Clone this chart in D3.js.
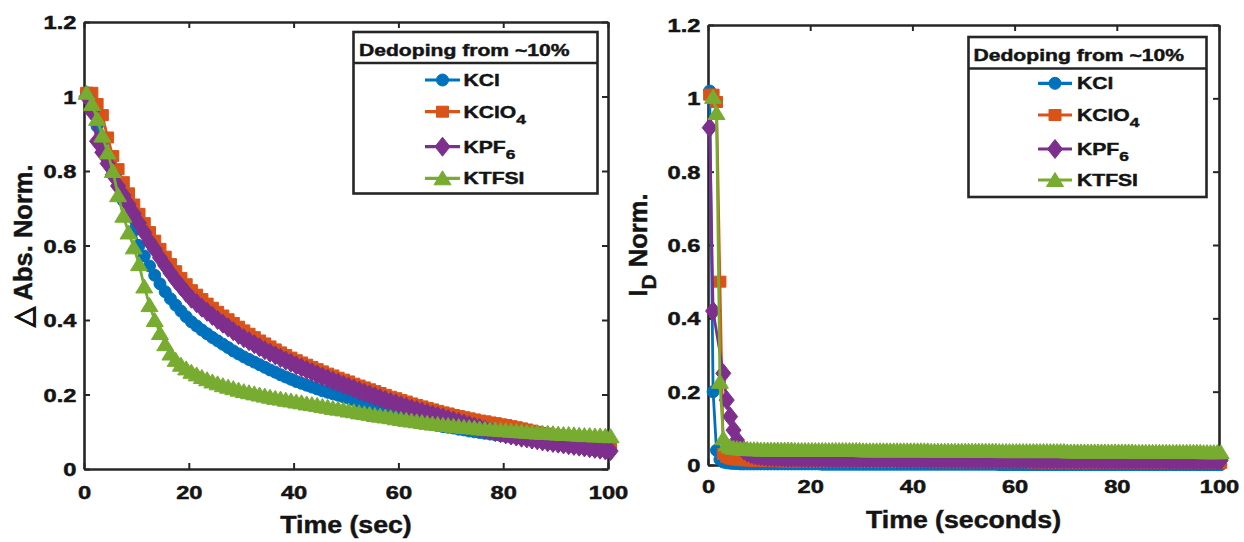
<!DOCTYPE html>
<html><head><meta charset="utf-8">
<script src="https://cdn.jsdelivr.net/npm/d3@7"></script>
<style>
html,body{margin:0;padding:0;background:#fff;}
svg{display:block;font-family:"Liberation Sans",Arial,sans-serif;font-weight:bold;}
</style>
</head><body>
<svg id="c" width="1244" height="542"></svg>
<script>
// ---------------- data ----------------
const seriesNames = [["KCl"], ["KClO", "4"], ["KPF", "6"], ["KTFSI"]];
const seriesColors = ["#0072BD", "#D95319", "#7E2F8E", "#77AC30"];
const seriesMarkers = ["circle", "square", "diamond", "triangle"];
const legendTitle = "Dedoping from ~10%";
const xTickVals = [0, 20, 40, 60, 80, 100];
const xTickLabels = ["0", "20", "40", "60", "80", "100"];
const yTickVals = [0, 0.2, 0.4, 0.6, 0.8, 1, 1.2];
const yTickLabels = ["0", "0.2", "0.4", "0.6", "0.8", "1", "1.2"];

// left panel: time grid (s)
const absTime = d3.range(0, 101).map(k => 0.5 + k);
const abs_KCl = [1.01,0.97,0.92,0.88,0.84,0.80,0.76,0.72,0.68,0.64,
0.60,0.572,0.545,0.52,0.497,0.476,0.457,0.44,0.424,0.409,
0.395,0.384,0.373,0.363,0.353,0.344,0.335,0.326,0.317,0.309,
0.301,0.294,0.287,0.28,0.273,0.266,0.26,0.253,0.247,0.241,
0.235,0.23,0.225,0.22,0.215,0.21,0.206,0.202,0.198,0.194,
0.19,0.185,0.18,0.175,0.17,0.165,0.16,0.155,0.15,0.145,
0.14,0.136,0.132,0.128,0.125,0.122,0.119,0.117,0.114,0.112,
0.11,0.107,0.105,0.102,0.1,0.098,0.096,0.094,0.092,0.09,
0.088,0.086,0.084,0.082,0.081,0.079,0.077,0.076,0.074,0.073,
0.071,0.07,0.068,0.067,0.066,0.064,0.063,0.062,0.06,0.059,
0.058];
const abs_KClO4 = [1.01,1.01,0.98,0.95,0.89,0.84,0.805,0.77,0.74,0.71,
0.685,0.66,0.636,0.613,0.591,0.57,0.55,0.531,0.513,0.496,
0.48,0.468,0.456,0.444,0.433,0.422,0.412,0.402,0.392,0.382,
0.372,0.363,0.354,0.345,0.337,0.329,0.321,0.313,0.306,0.299,
0.292,0.286,0.28,0.274,0.268,0.262,0.256,0.251,0.245,0.24,
0.235,0.229,0.224,0.219,0.214,0.209,0.204,0.199,0.194,0.19,
0.185,0.181,0.176,0.172,0.168,0.164,0.16,0.156,0.152,0.149,
0.145,0.142,0.139,0.136,0.133,0.13,0.128,0.125,0.123,0.12,
0.118,0.115,0.112,0.109,0.106,0.103,0.1,0.097,0.095,0.092,
0.09,0.087,0.085,0.082,0.08,0.078,0.075,0.073,0.071,0.068,
0.066];
const abs_KPF6 = [1.0,0.96,0.88,0.85,0.82,0.79,0.76,0.735,0.71,0.685,
0.66,0.635,0.61,0.59,0.567,0.546,0.526,0.507,0.49,0.473,
0.457,0.445,0.433,0.422,0.411,0.4,0.39,0.38,0.37,0.36,
0.351,0.343,0.335,0.327,0.319,0.312,0.305,0.298,0.291,0.285,
0.278,0.272,0.266,0.26,0.254,0.248,0.243,0.237,0.232,0.226,
0.221,0.216,0.21,0.205,0.2,0.195,0.19,0.185,0.18,0.176,
0.171,0.167,0.162,0.158,0.154,0.15,0.146,0.142,0.138,0.134,
0.13,0.126,0.122,0.118,0.114,0.11,0.106,0.103,0.099,0.096,
0.093,0.09,0.087,0.084,0.082,0.079,0.077,0.074,0.072,0.07,
0.068,0.066,0.064,0.062,0.06,0.058,0.056,0.054,0.052,0.05,
0.048];
const abs_KTFSI = [1.01,0.98,0.94,0.895,0.85,0.80,0.735,0.68,0.635,0.595,
0.55,0.49,0.44,0.40,0.365,0.335,0.31,0.293,0.28,0.27,
0.261,0.254,0.247,0.241,0.235,0.23,0.225,0.221,0.217,0.213,
0.209,0.206,0.203,0.2,0.197,0.194,0.191,0.189,0.186,0.184,
0.181,0.179,0.176,0.174,0.172,0.169,0.167,0.164,0.162,0.16,
0.157,0.155,0.152,0.15,0.148,0.145,0.143,0.141,0.139,0.136,
0.134,0.132,0.13,0.128,0.126,0.124,0.122,0.121,0.119,0.118,
0.116,0.115,0.113,0.112,0.111,0.109,0.108,0.107,0.106,0.105,
0.104,0.103,0.102,0.101,0.1,0.099,0.098,0.097,0.097,0.096,
0.095,0.094,0.094,0.093,0.092,0.091,0.091,0.09,0.09,0.089,
0.088];

// right panel: time grid (s); null = no sample recorded at that time
const idTime = d3.range(0, 151).map(k => 0.33 + k * 2 / 3);
const id_KCl = [1.02,0.2,0.04,0.015,0.008,0.006,0.005,0.004,0.004,0.003,
0.003,0.003,0.003,0.003,0.003,0.003,0.003,0.003,0.003,0.003,
0.003,0.003,0.003,0.003,0.003,0.003,0.003,0.003,0.003,0.003,
0.003,0.003,0.003,0.002,0.002,0.002,0.002,0.002,0.002,0.002,
0.002,0.002,0.002,0.002,0.002,0.002,0.002,0.002,0.002,0.002,
0.002,0.002,0.002,0.002,0.002,0.002,0.002,0.002,0.002,0.002,
0.002,0.002,0.002,0.002,0.002,0.002,0.002,0.002,0.002,0.002,
0.002,0.002,0.002,0.002,0.002,0.002,0.002,0.002,0.002,0.002,
0.002,0.002,0.002,0.002,0.002,0.001,0.001,0.001,0.001,0.001,
0.001,0.001,0.001,0.001,0.001,0.001,0.001,0.001,0.001,0.001,
0.001,0.001,0.001,0.001,0.001,0.001,0.001,0.001,0.001,0.001,
0.001,0.001,0.001,0.001,0.001,0.001,0.001,0.001,0.001,0.001,
0.001,0.001,0.001,0.001,0.001,0.001,0.001,0.001,0.001,0.001,
0.001,0.001,0.001,0.001,0.001,0.001,0.001,0.001,0.001,0.001,
0.001,0.001,0.001,0.001,0.001,0.001,0.001,0.001,0.001,0.001,
0.001];
const id_KClO4 = [1.01,1.01,0.99,0.5,0.03,0.022,0.018,0.016,0.015,0.014,
0.013,0.013,0.012,0.012,0.012,0.011,0.011,0.011,0.011,0.011,
0.011,0.01,0.01,0.01,0.01,0.01,0.01,0.01,0.01,0.01,
0.01,0.01,0.01,0.01,0.01,0.01,0.01,0.01,0.01,0.01,
0.01,0.01,0.01,0.01,0.01,0.009,0.009,0.009,0.009,0.009,
0.009,0.009,0.009,0.009,0.009,0.009,0.009,0.009,0.009,0.009,
0.009,0.009,0.009,0.009,0.009,0.008,0.008,0.008,0.008,0.008,
0.008,0.008,0.008,0.008,0.008,0.008,0.008,0.008,0.008,0.008,
0.008,0.008,0.008,0.008,0.008,0.008,0.008,0.008,0.008,0.008,
0.008,0.008,0.008,0.008,0.008,0.007,0.007,0.007,0.007,0.007,
0.007,0.007,0.007,0.007,0.007,0.007,0.007,0.007,0.007,0.007,
0.007,0.007,0.007,0.007,0.007,0.007,0.007,0.007,0.007,0.007,
0.007,0.007,0.007,0.007,0.007,0.006,0.006,0.006,0.006,0.006,
0.006,0.006,0.006,0.006,0.006,0.006,0.006,0.006,0.006,0.006,
0.006,0.006,0.006,0.006,0.006,0.006,0.006,0.006,0.006,0.006,
0.006];
const id_KPF6 = [0.92,0.42,null,null,0.25,0.177,0.132,0.095,0.068,0.05,
0.04,0.034,0.03,0.027,0.025,0.024,0.023,0.022,0.022,0.021,
0.021,0.021,0.02,0.02,0.02,0.02,0.02,0.019,0.019,0.019,
0.019,0.019,0.019,0.019,0.019,0.018,0.018,0.018,0.018,0.018,
0.018,0.018,0.018,0.018,0.018,0.018,0.018,0.018,0.018,0.018,
0.018,0.018,0.018,0.018,0.018,0.017,0.017,0.017,0.017,0.017,
0.017,0.017,0.017,0.017,0.017,0.017,0.017,0.017,0.017,0.017,
0.017,0.017,0.017,0.017,0.017,0.016,0.016,0.016,0.016,0.016,
0.016,0.016,0.016,0.016,0.016,0.016,0.016,0.016,0.016,0.016,
0.016,0.016,0.016,0.016,0.016,0.015,0.015,0.015,0.015,0.015,
0.015,0.015,0.015,0.015,0.015,0.015,0.015,0.015,0.015,0.015,
0.015,0.015,0.015,0.015,0.015,0.014,0.014,0.014,0.014,0.014,
0.014,0.014,0.014,0.014,0.014,0.014,0.014,0.014,0.014,0.014,
0.014,0.014,0.014,0.014,0.014,0.013,0.013,0.013,0.013,0.013,
0.013,0.013,0.013,0.013,0.013,0.013,0.013,0.013,0.013,0.013,
0.013];
const id_KTFSI = [null,1.004,0.96,0.227,0.073,0.056,0.05,0.047,0.046,0.045,
0.044,0.044,0.043,0.043,0.043,0.042,0.042,0.042,0.042,0.042,
0.042,0.042,0.042,0.042,0.042,0.041,0.041,0.041,0.041,0.041,
0.041,0.041,0.041,0.041,0.041,0.041,0.041,0.041,0.041,0.041,
0.041,0.041,0.041,0.041,0.041,0.04,0.04,0.04,0.04,0.04,
0.04,0.04,0.04,0.04,0.04,0.04,0.04,0.04,0.04,0.04,
0.04,0.04,0.04,0.04,0.04,0.039,0.039,0.039,0.039,0.039,
0.039,0.039,0.039,0.039,0.039,0.039,0.039,0.039,0.039,0.039,
0.039,0.039,0.039,0.039,0.039,0.038,0.038,0.038,0.038,0.038,
0.038,0.038,0.038,0.038,0.038,0.038,0.038,0.038,0.038,0.038,
0.038,0.038,0.038,0.038,0.038,0.037,0.037,0.037,0.037,0.037,
0.037,0.037,0.037,0.037,0.037,0.037,0.037,0.037,0.037,0.037,
0.037,0.037,0.037,0.037,0.037,0.036,0.036,0.036,0.036,0.036,
0.036,0.036,0.036,0.036,0.036,0.036,0.036,0.036,0.036,0.036,
0.036,0.036,0.036,0.036,0.036,0.035,0.035,0.035,0.035,0.035,
0.035];

// ---------------- drawing ----------------
const SX = 1.28;            // horizontal stretch of the original figure's tick/legend text
const AX = "#262626";
const TXT = "#141414";
const svg = d3.select("#c");

const markerPaths = {
  circle: "M-6,0A6,6 0 1,0 6,0A6,6 0 1,0 -6,0Z",
  square: "M-6,-5.5H6V5.5H-6Z",
  diamond: "M0,-9.5L7.5,0L0,9.5L-7.5,0Z",
  triangle: "M0,-7.5L8.5,6.5L-8.5,6.5Z"
};

function stretchedText(parent, x, y, anchor, size, parts, rotate, sx) {
  const t = parent.append("text")
    .attr("transform", rotate
      ? `translate(${x},${y}) rotate(-90) scale(1,${sx})`
      : `translate(${x},${y}) scale(${sx},1)`)
    .attr("text-anchor", anchor)
    .attr("font-size", size)
    .attr("fill", TXT).attr("stroke", TXT).attr("stroke-width", 0.45);
  let sub = false;
  parts.forEach(p => {
    const isSub = p[1];
    const ts = t.append("tspan").text(p[0]);
    if (isSub && !sub) ts.attr("dy", size * 0.36).attr("font-size", size * 0.82);
    if (!isSub && sub) ts.attr("dy", -size * 0.36);
    sub = isSub;
  });
  return t;
}

const panels = [
  { x0: 84, x1: 608, yB: 469, yT: 22, time: absTime,
    series: [abs_KCl, abs_KClO4, abs_KPF6, abs_KTFSI],
    xlabel: "Time (sec)", ylabel: [["\u25B3 Abs. Norm.", false]], ylabX: 32,
    xlabY: 533, xtickY: 30,
    leg: { bx: 353.5, by: 32, bw: 244, bh: 161.5, sepY: 63, titleX: 359, titleY: 55.5,
           lx0: 425, lx1: 460, tx: 463.5, rows: [80, 111.7, 146.7, 178.3] } },
  { x0: 708, x1: 1219, yB: 465, yT: 25, time: idTime,
    series: [id_KCl, id_KClO4, id_KPF6, id_KTFSI],
    xlabel: "Time (seconds)", ylabel: [["I", false], ["D", true], [" Norm.", false]], ylabX: 647,
    xlabY: 528, xtickY: 28.5,
    leg: { bx: 968.5, by: 37, bw: 238, bh: 160, sepY: 68.5, titleX: 973.5, titleY: 60.5,
           lx0: 1038, lx1: 1072, tx: 1077, rows: [83.3, 115, 149, 180] } }
];

panels.forEach(P => {
  const x = d3.scaleLinear().domain([0, 100]).range([P.x0, P.x1]);
  const y = d3.scaleLinear().domain([0, 1.2]).range([P.yB, P.yT]);
  const g = svg.append("g");

  const styleAxis = sel => {
    sel.select(".domain").attr("stroke", AX).attr("stroke-width", 2.6);
    sel.selectAll(".tick line").attr("stroke", AX).attr("stroke-width", 2);
  };
  const gb = g.append("g").attr("transform", `translate(0,${P.yB})`)
    .call(d3.axisBottom(x).tickValues(xTickVals).tickFormat((d, i) => xTickLabels[i]).tickSize(-6).tickSizeOuter(0));
  const gl = g.append("g").attr("transform", `translate(${P.x0},0)`)
    .call(d3.axisLeft(y).tickValues(yTickVals).tickFormat((d, i) => yTickLabels[i]).tickSize(-6).tickSizeOuter(0));
  const gt = g.append("g").attr("transform", `translate(0,${P.yT})`)
    .call(d3.axisTop(x).tickValues(xTickVals).tickFormat("").tickSize(-6).tickSizeOuter(0));
  const gr = g.append("g").attr("transform", `translate(${P.x1},0)`)
    .call(d3.axisRight(y).tickValues(yTickVals).tickFormat("").tickSize(-6).tickSizeOuter(0));
  [gb, gl, gt, gr].forEach(styleAxis);
  [gt, gr].forEach(s => s.selectAll("text").remove());

  const styleTickText = sel => sel
    .attr("font-size", 18.5).attr("font-family", "Liberation Sans, Arial, sans-serif")
    .attr("font-weight", "bold").attr("fill", TXT).attr("stroke", TXT).attr("stroke-width", 0.5);
  gb.selectAll(".tick text")
    .attr("transform", `scale(${SX},1)`).attr("y", P.xtickY).attr("dy", 0).call(styleTickText);
  gl.selectAll(".tick text")
    .attr("transform", `scale(${SX},1)`).attr("x", -7.5 / SX).attr("dy", "0.36em").call(styleTickText);

  // axis titles
  stretchedText(g, (P.x0 + P.x1) / 2, P.xlabY, "middle", 23, [[P.xlabel, false]], false, 1.16);
  stretchedText(g, P.ylabX, (P.yB + P.yT) / 2, "middle", 25.5, P.ylabel, true, 1.0);

  // series
  P.series.forEach((vals, si) => {
    const pts = vals.map((v, i) => ({ t: P.time[i], v })).filter(d => d.v !== null);
    const line = d3.line().x(d => x(d.t)).y(d => y(d.v));
    const sg = g.append("g");
    sg.append("path").attr("d", line(pts)).attr("fill", "none")
      .attr("stroke", seriesColors[si]).attr("stroke-width", 2.8).attr("stroke-linejoin", "round");
    sg.selectAll("path.m").data(pts).join("path").attr("class", "m")
      .attr("d", markerPaths[seriesMarkers[si]])
      .attr("transform", d => `translate(${x(d.t)},${y(d.v)})`)
      .attr("fill", seriesColors[si]).attr("stroke", seriesColors[si]).attr("stroke-width", 1);
  });

  // legend
  const L = P.leg;
  const lg = g.append("g");
  lg.append("rect").attr("x", L.bx).attr("y", L.by).attr("width", L.bw).attr("height", L.bh)
    .attr("fill", "#fff").attr("stroke", AX).attr("stroke-width", 2.6);
  lg.append("line").attr("x1", L.bx).attr("x2", L.bx + L.bw).attr("y1", L.sepY).attr("y2", L.sepY)
    .attr("stroke", AX).attr("stroke-width", 2.6);
  stretchedText(lg, L.titleX, L.titleY, "start", 16.5, [[legendTitle, false]], false, SX);
  seriesNames.forEach((nm, si) => {
    const ry = L.rows[si];
    lg.append("line").attr("x1", L.lx0).attr("x2", L.lx1).attr("y1", ry).attr("y2", ry)
      .attr("stroke", seriesColors[si]).attr("stroke-width", 3.2);
    lg.append("path").attr("d", markerPaths[seriesMarkers[si]])
      .attr("transform", `translate(${(L.lx0 + L.lx1) / 2},${ry})`)
      .attr("fill", seriesColors[si]).attr("stroke", seriesColors[si]).attr("stroke-width", 1);
    const parts = nm.length > 1 ? [[nm[0], false], [nm[1], true]] : [[nm[0], false]];
    stretchedText(lg, L.tx, ry + 6, "start", 16.5, parts, false, SX);
  });
});
</script>
</body></html>
